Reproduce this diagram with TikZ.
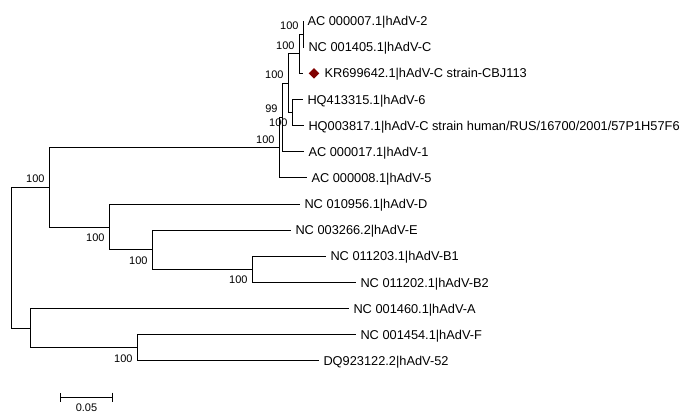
\documentclass[tikz,border=0pt]{standalone}
\usepackage{fontspec}
\setmainfont{Liberation Sans}
\usetikzlibrary{positioning, shapes.geometric, arrows.meta, calc}
\definecolor{mydarkred}{RGB}{128,0,0}

\begin{document}
\begin{tikzpicture}[x=1pt, y=-1pt, line width=1pt,
	leaf/.style={inner sep=0pt, text height=9.2pt, text depth=0pt, font=\fontsize{12.8}{14}\selectfont},
	boot/.style={inner sep=0pt, text height=7.9pt, text depth=0pt, font=\fontsize{11}{12}\selectfont}]

\useasboundingbox (0,0) rectangle (690,418);

%----------TIPS-------------%
\foreach \i/\x/\name in {0/303/{AC 000007.1|hAdV-2}, 1/304/{NC 001405.1|hAdV-C},
	3/303/{HQ413315.1|hAdV-6}, 4/304/{HQ003817.1|hAdV-C strain human/RUS/16700/2001/57P1H57F6},
	5/304/{AC 000017.1|hAdV-1}, 6/307/{AC 000008.1|hAdV-5}, 7/300/{NC 010956.1|hAdV-D},
	8/291/{NC 003266.2|hAdV-E}, 9/326/{NC 011203.1|hAdV-B1}, 10/356/{NC 011202.1|hAdV-B2},
	11/349/{NC 001460.1|hAdV-A}, 12/356/{NC 001454.1|hAdV-F}, 13/319/{DQ923122.2|hAdV-52}}{
	\coordinate (t\i) at (\x, 21+26.15*\i);
	\node [leaf, right=4pt of t\i] (l\i) {\name};
};

\coordinate (t2) at (303,73.3);
\node [diamond, fill=mydarkred, inner sep=0pt, minimum width=11pt, minimum height=11pt, right=5pt of t2] (mark) {};
\node [leaf, right=4pt of mark] (l2) {KR699642.1|hAdV-C strain-CBJ113};

%----------INNER NODES-------------%
\coordinate (n1) at (303,34.1);
\coordinate (n2) at (299,53.7);
\coordinate (n3) at (288,83.1);
\coordinate (n4) at (292,112.5);
\coordinate (n5) at (282,117.4);
\coordinate (n6) at (279,147.7);
\coordinate (n7) at (49,187.3);
\coordinate (n8) at (109,227);
\coordinate (n9) at (152,249.8);
\coordinate (n10) at (252,269.4);
\coordinate (n11) at (30,328.3);
\coordinate (n12) at (137,347.9);
\coordinate (root) at (11,257.8);

%----------BRANCHES-------------%
\foreach \p/\c in {n1/t0, n1/t1, n2/n1, n2/t2, n3/n2, n3/n4, n4/t3, n4/t4,
	n5/n3, n5/t5, n6/n5, n6/t6, n7/n6, n7/n8, n8/t7, n8/n9, n9/t8, n9/n10,
	n10/t9, n10/t10, root/n7, root/n11, n11/t11, n11/n12, n12/t12, n12/t13}{
	\draw (\p) |- (\c);
};

%----------BOOTSTRAP-------------%
\foreach \n/\v in {n1/100, n2/100, n3/100, n5/99, n6/100, n7/100}{
	\node [boot, above left=4pt and 4pt of \n] (b\n) {\v};
};
\foreach \n/\v in {n4/100, n8/100, n9/100, n10/100, n12/100}{
	\node [boot, below left=6pt and 4pt of \n] (b\n) {\v};
};

%----------SCALE-------------%
\coordinate (s0) at (60,397);
\coordinate (s1) at (113,397);
\draw [{Bar[width=9pt]}-{Bar[width=9pt]}] (s0) -- (s1);
\node [boot, below=6pt of $(s0)!0.5!(s1)$] (scale) {0.05};

\end{tikzpicture}
\end{document}
